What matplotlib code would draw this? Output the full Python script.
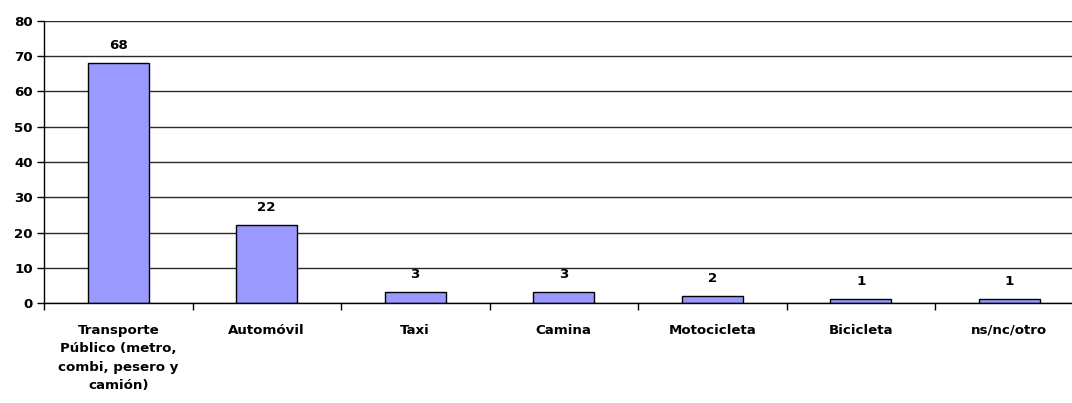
import matplotlib
matplotlib.use("Agg")
import matplotlib.pyplot as plt
import numpy as np

categories = [
    "Transporte\nPúblico (metro,\ncombi, pesero y\ncamión)",
    "Automóvil",
    "Taxi",
    "Camina",
    "Motocicleta",
    "Bicicleta",
    "ns/nc/otro",
]
values = [68, 22, 3, 3, 2, 1, 1]
y_ticks = [0, 10, 20, 30, 40, 50, 60, 70, 80]

plt.rcParams['font.family'] = ['DejaVu Sans']
FS = 9.6

fig = plt.figure(figsize=(10.72, 4.03), dpi=100)
ax = fig.add_axes([44 / 1072, 1 - 303 / 403, 1039.5 / 1072, 282 / 403])

x = np.arange(len(categories))
ax.bar(x, values, width=0.41, color="#9999FF", edgecolor="black", linewidth=1.0, zorder=3)

for xi, v in zip(x, values):
    ax.annotate(str(v), (xi, v), xytext=(0, 8), textcoords="offset points",
                ha="center", va="bottom", fontsize=FS, fontweight="bold")

ax.set_xlim(-0.5, len(categories) - 0.5)
ax.set_ylim(0, 80)
ax.set_yticks(y_ticks)
ax.set_yticklabels([str(t) for t in y_ticks], fontsize=FS, fontweight="bold")
ax.yaxis.grid(True, color="#2a2a2a", linewidth=1.0, zorder=0)

# boundary tick marks between categories, labels centered on the bars
ax.set_xticks(np.arange(-0.5, len(categories) + 0.5, 1.0))
ax.set_xticklabels([])
ax.set_xticks(x, minor=True)
ax.set_xticklabels(categories, minor=True, fontsize=FS, fontweight="bold", linespacing=1.55)
ax.tick_params(axis="x", which="minor", length=0, pad=15)
ax.tick_params(axis="x", which="major", length=5, width=1, color="black", direction="out")
ax.tick_params(axis="y", length=5, width=1, color="black", direction="out", pad=3)

for side in ("top", "right"):
    ax.spines[side].set_visible(False)
for side in ("left", "bottom"):
    ax.spines[side].set_color("black")
    ax.spines[side].set_linewidth(1.0)
    ax.spines[side].set_zorder(4)

fig.savefig("out.png", dpi=100)
